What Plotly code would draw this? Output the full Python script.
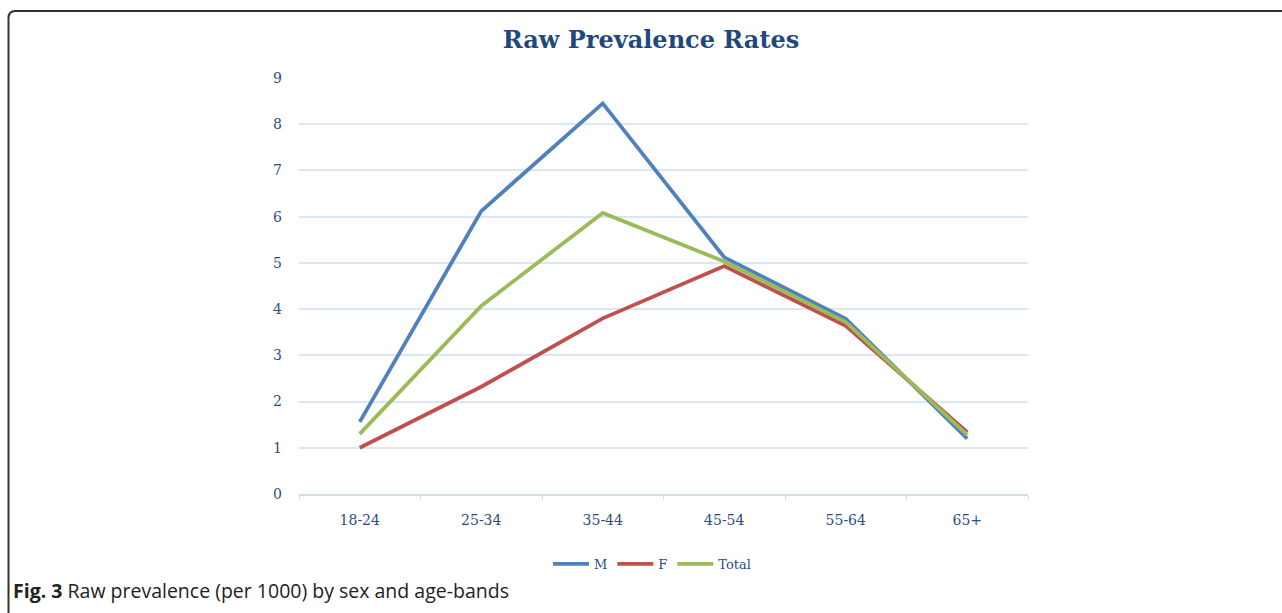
import plotly.graph_objects as go

age_bands = ["18-24", "25-34", "35-44", "45-54", "55-64", "65+"]
male = [1.56, 6.12, 8.45, 5.12, 3.79, 1.2]
female = [1.0, 2.32, 3.8, 4.93, 3.64, 1.34]
total = [1.3, 4.07, 6.08, 5.03, 3.72, 1.28]
series_names = ["M", "F", "Total"]
y_ticks = [0, 1, 2, 3, 4, 5, 6, 7, 8, 9]

W, H = 1282, 613
L, R, T, B = 299, 1028, 78, 494
pw, ph = R - L, B - T

def px(x):
    return (x - L) / pw

def py(y):
    return (B - y) / ph

colors = ["#4f81bd", "#c0504d", "#9bbb59"]
serif = "DejaVu Serif"
txt = "#2c4d7e"

fig = go.Figure()
for name, vals, c in zip(series_names, [male, female, total], colors):
    fig.add_trace(go.Scatter(x=age_bands, y=vals, mode="lines", name=name,
                             line=dict(color=c, width=3.8)))

fig.update_layout(
    width=W, height=H,
    margin=dict(l=L, r=W - R, t=T, b=H - B),
    paper_bgcolor="white", plot_bgcolor="white",
    title=dict(text="<b>Raw Prevalence Rates</b>", x=651 / W, xanchor="center",
               xref="container", y=1 - 40 / H, yref="container", yanchor="middle",
               font=dict(family=serif, size=24, color="#1f497d")),
    showlegend=True,
    legend=dict(orientation="h", x=px(652), xanchor="center", y=py(564), yanchor="middle",
                font=dict(family=serif, size=13, color=txt), itemwidth=36,
                tracegroupgap=0),
    xaxis=dict(range=[-0.5, 5.5], showgrid=False, showline=True, linecolor="#cfddf0",
               linewidth=1.5, ticks="outside", tickson="boundaries", ticklen=4,
               tickcolor="#cfddf0",
               tickfont=dict(family=serif, size=14, color=txt), ticklabelstandoff=12),
    yaxis=dict(range=[0, 9], tickvals=y_ticks, showgrid=True, gridcolor="#dce7f5",
               gridwidth=1.5, zeroline=False, showline=False,
               tickfont=dict(family=serif, size=14, color=txt), ticklabelstandoff=16),
)

# caption
fig.add_annotation(text="<b>Fig. 3</b> Raw prevalence (per 1000) by sex and age-bands",
                   xref="paper", yref="paper", x=px(11), y=py(590),
                   xanchor="left", yanchor="middle", showarrow=False,
                   font=dict(family="Open Sans", size=19.5, color="#222222"))

# frame (rounded corner at top-left)
path = (f"M {px(8.5)},{py(620)} L {px(8.5)},{py(18)} "
        f"Q {px(8.5)},{py(11)} {px(15.5)},{py(11)} L {px(1290)},{py(11)}")
fig.add_shape(type="path", path=path, xref="paper", yref="paper",
              line=dict(color="#333333", width=2))

fig.write_html("out.html", config={"displayModeBar": False},
               post_script="document.body.style.margin='0';document.body.style.overflow='hidden';")
